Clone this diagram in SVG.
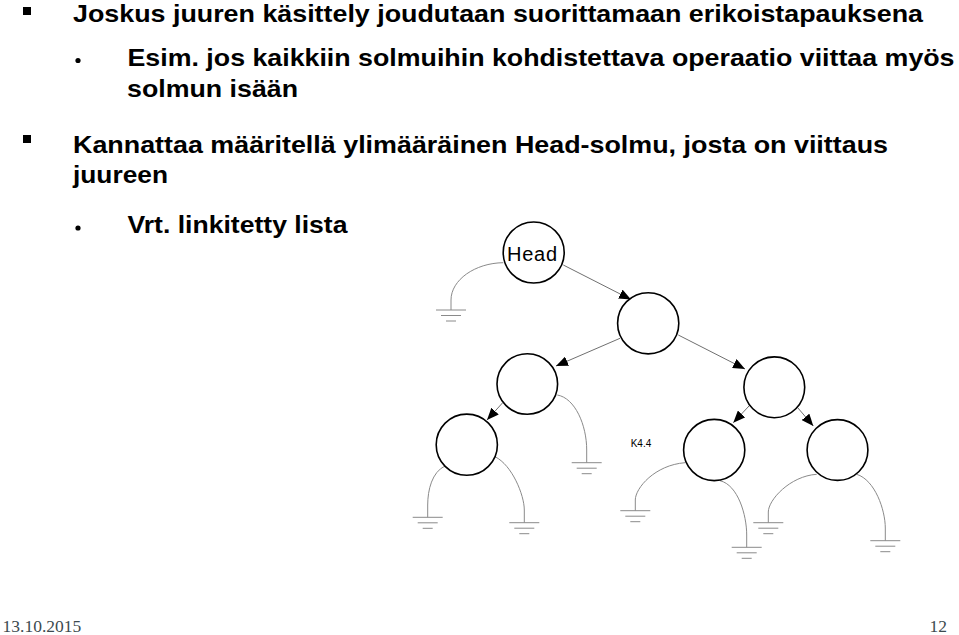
<svg xmlns="http://www.w3.org/2000/svg" xmlns:xlink="http://www.w3.org/1999/xlink" width="959" height="635" viewBox="0 0 959 635">
<style>
.t{font-family:"Liberation Sans",Arial,sans-serif;font-weight:bold;font-size:24.5px;fill:#000}
.foot{font-family:"Liberation Serif","Times New Roman",serif;font-size:17.5px;fill:#3c4a4f}
.node{fill:#fff;stroke:#000;stroke-width:1.6}
.lbl{font-family:"Liberation Sans",Arial,sans-serif;fill:#000}
.arr{stroke:#707070;stroke-width:1;fill:none;marker-end:url(#ah)}
.wire{stroke:#8a8a8a;stroke-width:1;fill:none}
.g line{stroke:#8a8a8a;stroke-width:1}
</style>
<defs>
<marker id="ah" markerUnits="userSpaceOnUse" markerWidth="12" markerHeight="10" refX="12" refY="5" orient="auto">
<path d="M0,0 L12,5 L0,10 z" fill="#000"/>
</marker>
<g id="gnd" class="g">
<line x1="-15" y1="0" x2="15" y2="0"/>
<line x1="-10" y1="5.5" x2="10" y2="5.5"/>
<line x1="-5" y1="11" x2="5" y2="11"/>
</g>
</defs>
<rect width="959" height="635" fill="#fff"/>

<g id="text">
<rect x="23" y="7" width="8" height="8" fill="#000"/>
<text class="t" x="73" y="22" textLength="850" lengthAdjust="spacingAndGlyphs">Joskus juuren käsittely joudutaan suorittamaan erikoistapauksena</text>
<circle cx="78" cy="60.5" r="2.6" fill="#000"/>
<text class="t" x="127.5" y="65.5" textLength="827" lengthAdjust="spacingAndGlyphs">Esim. jos kaikkiin solmuihin kohdistettava operaatio viittaa myös</text>
<text class="t" x="127" y="97" textLength="171" lengthAdjust="spacingAndGlyphs">solmun isään</text>
<rect x="23" y="135" width="8" height="8" fill="#000"/>
<text class="t" x="73" y="153" textLength="815" lengthAdjust="spacingAndGlyphs">Kannattaa määritellä ylimääräinen Head-solmu, josta on viittaus</text>
<text class="t" x="73" y="183" textLength="95" lengthAdjust="spacingAndGlyphs">juureen</text>
<circle cx="78" cy="228" r="2.6" fill="#000"/>
<text class="t" x="127.5" y="233" textLength="220" lengthAdjust="spacingAndGlyphs">Vrt. linkitetty lista</text>
</g>

<g id="connectors">
<line class="arr" x1="563.3" y1="265" x2="631" y2="299.5"/>
<line class="arr" x1="620" y1="338.3" x2="556" y2="366"/>
<line class="arr" x1="678.3" y1="335" x2="745" y2="369"/>
<line class="arr" x1="502.7" y1="402.7" x2="487" y2="420"/>
<line class="arr" x1="749.3" y1="405.7" x2="733.3" y2="422.7"/>
<line class="arr" x1="797.7" y1="407.7" x2="813.3" y2="426"/>

<path class="wire" d="M503.3,262.7 C475,263 451,280 451,300 L451,310"/>
<use xlink:href="#gnd" x="451" y="310"/>
<path class="wire" d="M557.3,395 C575,398 586.7,425 586.7,450 L586.7,462.7"/>
<use xlink:href="#gnd" x="586.7" y="462.7"/>
<path class="wire" d="M445,466 C432,472 427.7,490 427.7,505 L427.7,517.3"/>
<use xlink:href="#gnd" x="427.7" y="517.3"/>
<path class="wire" d="M495,456.7 C512,465 524.3,495 524.3,510 L524.3,522.7"/>
<use xlink:href="#gnd" x="524.3" y="522.7"/>
<path class="wire" d="M685,462.7 C655,465 635.3,488 635.3,500 L635.3,510.7"/>
<use xlink:href="#gnd" x="635.3" y="510.7"/>
<path class="wire" d="M720,480.7 C738,485 746.7,515 746.7,535 L746.7,547.3"/>
<use xlink:href="#gnd" x="746.7" y="547.3"/>
<path class="wire" d="M816.7,474.3 C790,476 768.3,500 768.3,512 L768.3,522.7"/>
<use xlink:href="#gnd" x="768.3" y="522.7"/>
<path class="wire" d="M856.7,474.3 C875,480 885.3,510 885.3,528 L885.3,540.7"/>
<use xlink:href="#gnd" x="885.3" y="540.7"/>
</g>

<g id="node-head">
<circle class="node" cx="533.7" cy="252.5" r="30.5"/>
<text class="lbl" x="507" y="260.5" font-size="20" textLength="50" lengthAdjust="spacing">Head</text>
</g>
<g id="node-root"><circle class="node" cx="648.2" cy="323.3" r="30.6"/></g>
<g id="node-l"><circle class="node" cx="527.3" cy="384" r="30.3"/></g>
<g id="node-r"><circle class="node" cx="774.3" cy="387.3" r="30.4"/></g>
<g id="node-ll"><circle class="node" cx="466.8" cy="444.7" r="30.6"/></g>
<g id="node-rl"><circle class="node" cx="714.2" cy="450" r="30.6"/></g>
<g id="node-rr"><circle class="node" cx="837.5" cy="450" r="30.4"/></g>

<g id="label-k44">
<text class="lbl" x="630.7" y="447.3" font-size="10">K4.4</text>
</g>

<g id="footer">
<text class="foot" x="2.5" y="632">13.10.2015</text>
<text class="foot" x="947" y="632" text-anchor="end">12</text>
</g>
</svg>
